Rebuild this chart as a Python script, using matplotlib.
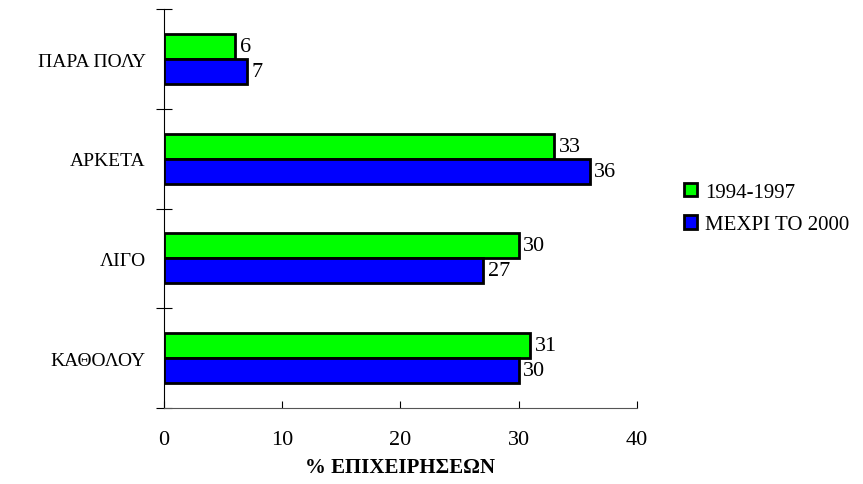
import numpy as np
import matplotlib.pyplot as plt

categories = ['ΚΑΘΟΛΟΥ', 'ΛΙΓΟ', 'ΑΡΚΕΤΑ', 'ΠΑΡΑ ΠΟΛΥ']
series_1994 = [31, 30, 33, 6]
series_2000 = [30, 27, 36, 7]
labels = ['1994-1997', 'ΜΕΧΡΙ ΤΟ 2000']

plt.rcParams['font.family'] = ['Liberation Serif', 'DejaVu Serif']
plt.rcParams['font.size'] = 15

fig = plt.figure(figsize=(8.63, 4.85), dpi=100)
ax = fig.add_axes([0.190, 0.157, 0.548, 0.822])

y = np.arange(len(categories))
h = 0.25
b1 = ax.barh(y + h / 2, series_1994, height=h, color='#00ff00', edgecolor='black', linewidth=2, label=labels[0])
b2 = ax.barh(y - h / 2, series_2000, height=h, color='#0000ff', edgecolor='black', linewidth=2, label=labels[1])
for bars, vals in ((b1, series_1994), (b2, series_2000)):
    for r, v in zip(bars, vals):
        ax.text(v + 0.4, r.get_y() + r.get_height() / 2, str(v), va='center', ha='left', fontsize=16)

ax.set_xlim(0, 40)
ax.set_ylim(-0.5, len(categories) - 0.5)
ax.set_xticks([0, 10, 20, 30, 40])
ax.set_yticks(y)
ax.set_yticklabels(categories, fontsize=14)
ax.tick_params(axis='y', length=0, pad=13)
ax.set_yticks(np.arange(-0.5, len(categories)), minor=True)
ax.tick_params(axis='y', which='minor', direction='inout', length=12, width=0.8)
ax.tick_params(axis='x', direction='in', length=5, width=0.8, pad=16, labelsize=16)
for s in ('top', 'right'):
    ax.spines[s].set_visible(False)
ax.spines['left'].set_linewidth(0.8)
ax.spines['bottom'].set_linewidth(0.8)
ax.spines['bottom'].set_color('#555555')
ax.set_xlabel('% ΕΠΙΧΕΙΡΗΣΕΩΝ', fontweight='bold', fontsize=15, labelpad=6)

ax.legend(loc='center left', bbox_to_anchor=(1.06, 0.5), frameon=False, fontsize=15,
          handlelength=0.6, handleheight=0.6, handletextpad=0.4, labelspacing=0.65)

fig.savefig('out.png', dpi=100)
